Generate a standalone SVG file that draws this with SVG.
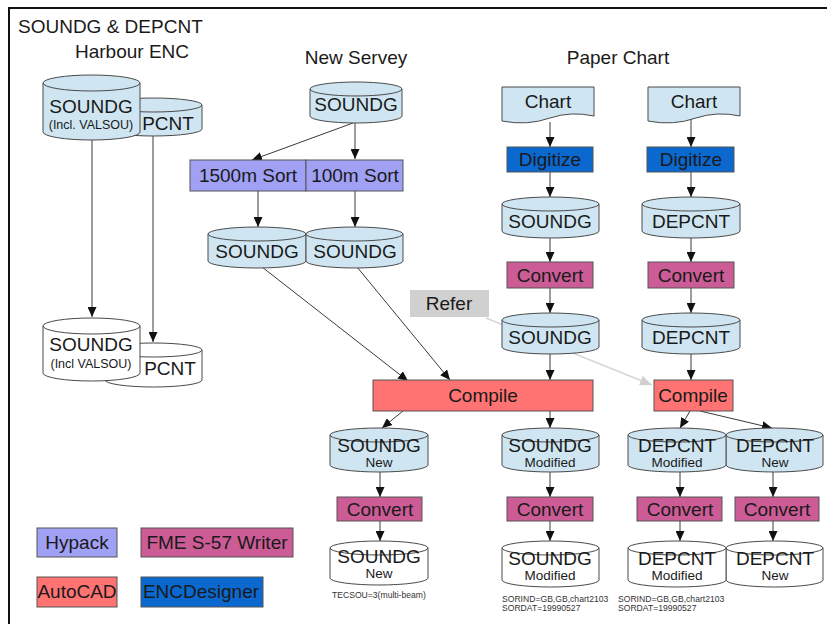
<svg xmlns="http://www.w3.org/2000/svg" width="827" height="624" viewBox="0 0 827 624">
<style>
text{font-family:"Liberation Sans",Arial,sans-serif;fill:#1a1a1a;text-anchor:middle}
.t17{font-size:19px}
.t16{font-size:19px}
.t12{font-size:13.5px}
.t11{font-size:12.5px}
.cap{font-size:8.6px;text-anchor:start;fill:#333}
.cb{fill:#cfe6f2;stroke:#4a4a4a;stroke-width:1}
.cw{fill:#ffffff;stroke:#4a4a4a;stroke-width:1}
.rim{fill:none;stroke:#4a4a4a;stroke-width:1}
.hyp{fill:#a0a0f5;stroke:#555;stroke-width:1}
.fme{fill:#cc5c96;stroke:#555;stroke-width:1}
.acad{fill:#ff7373;stroke:#555;stroke-width:1}
.enc{fill:#0a68cf;stroke:#555;stroke-width:1}
.ref{fill:#d0d0d0}
.ln{fill:none;stroke:#3a3a3a;stroke-width:1;marker-end:url(#ah)}
.lg{fill:none;stroke:#d6d6d6;stroke-width:1.5;marker-end:url(#ahg)}
</style>
<defs>
<marker id="ah" markerUnits="userSpaceOnUse" markerWidth="10" markerHeight="9" refX="10" refY="4.5" orient="auto"><path d="M0,0 L10,4.5 L0,9 z" fill="#111"/></marker>
<marker id="ahg" markerUnits="userSpaceOnUse" markerWidth="12" markerHeight="10" refX="12" refY="5" orient="auto"><path d="M0,0 L12,5 L0,10 z" fill="#cfcfcf"/></marker>
</defs>
<rect width="827" height="624" fill="#ffffff"/>
<path d="M9,624 V8 H827" fill="none" stroke="#111" stroke-width="2"/>

<text class="t17" x="18" y="33" style="text-anchor:start">SOUNDG &amp; DEPCNT</text>
<text class="t17" x="132" y="58">Harbour ENC</text>
<text class="t17" x="356" y="64">New Servey</text>
<text class="t17" x="618" y="64">Paper Chart</text>

<g id="connectors">
<path class="ln" d="M92,140 V317"/>
<path class="ln" d="M153,136 V342"/>
<path class="ln" d="M353,123 L252,160"/>
<path class="ln" d="M355,123 V159"/>
<path class="ln" d="M258,191 V227"/>
<path class="ln" d="M355,191 V227"/>
<path class="ln" d="M262,267 L408,381"/>
<path class="ln" d="M357,267 L450,380"/>
<path class="ln" d="M550,122 V147"/>
<path class="ln" d="M550,172 V197"/>
<path class="ln" d="M550,238 V262"/>
<path class="ln" d="M550,288 V313"/>
<path class="ln" d="M550,354 V380"/>
<path class="ln" d="M691,119 V147"/>
<path class="ln" d="M691,172 V197"/>
<path class="ln" d="M691,238 V262"/>
<path class="ln" d="M691,288 V313"/>
<path class="ln" d="M691,354 V380"/>
<path class="lg" d="M486,318 L652,385"/>
<path class="ln" d="M403,411 L382,428"/>
<path class="ln" d="M550,411 V428"/>
<path class="ln" d="M690,411 L680,428"/>
<path class="ln" d="M700,411 L772,428"/>
<path class="ln" d="M380,472 V497"/>
<path class="ln" d="M380,521 V541"/>
<path class="ln" d="M550,472 V497"/>
<path class="ln" d="M550,521 V541"/>
<path class="ln" d="M680,472 V497"/>
<path class="ln" d="M680,521 V541"/>
<path class="ln" d="M773,472 V497"/>
<path class="ln" d="M773,521 V541"/>
</g>

<g id="harbour-pcnt">
<path class="cb" d="M105,105 A48.5,7 0 0 1 202,105 V129 A48.5,7 0 0 1 105,129 Z"/>
<path class="rim" d="M105,105 A48.5,7 0 0 0 202,105"/>
<text class="t17" x="168" y="130">PCNT</text>
</g>
<g id="harbour-soundg">
<path class="cb" d="M43,83 A48.5,8 0 0 1 140,83 V132 A48.5,8 0 0 1 43,132 Z"/>
<path class="rim" d="M43,83 A48.5,8 0 0 0 140,83"/>
<text class="t17" x="91" y="113">SOUNDG</text>
<text class="t11" x="91" y="129">(Incl. VALSOU)</text>
</g>
<g id="harbour-pcnt-out">
<path class="cw" d="M105,350 A48.5,7 0 0 1 202,350 V380 A48.5,7 0 0 1 105,380 Z"/>
<path class="rim" d="M105,350 A48.5,7 0 0 0 202,350"/>
<text class="t17" x="170" y="375">PCNT</text>
</g>
<g id="harbour-soundg-out">
<path class="cw" d="M43,326 A48.5,8 0 0 1 140,326 V373 A48.5,8 0 0 1 43,373 Z"/>
<path class="rim" d="M43,326 A48.5,8 0 0 0 140,326"/>
<text class="t17" x="91" y="351">SOUNDG</text>
<text class="t11" x="91" y="368">(Incl VALSOU)</text>
</g>

<g id="ns-soundg">
<path class="cb" d="M310,89 A46,7 0 0 1 402,89 V116 A46,7 0 0 1 310,116 Z"/>
<path class="rim" d="M310,89 A46,7 0 0 0 402,89"/>
<text class="t17" x="356" y="111">SOUNDG</text>
</g>
<g id="sort1500">
<rect class="hyp" x="190" y="160" width="116" height="31"/>
<text class="t16" x="248" y="182">1500m Sort</text>
</g>
<g id="sort100">
<rect class="hyp" x="306" y="160" width="97" height="31"/>
<text class="t16" x="355" y="182">100m Sort</text>
</g>
<g id="ns-soundg-l">
<path class="cb" d="M208,234 A49,7 0 0 1 306,234 V261 A49,7 0 0 1 208,261 Z"/>
<path class="rim" d="M208,234 A49,7 0 0 0 306,234"/>
<text class="t17" x="257" y="258">SOUNDG</text>
</g>
<g id="ns-soundg-r">
<path class="cb" d="M306,234 A48.5,7 0 0 1 403,234 V261 A48.5,7 0 0 1 306,261 Z"/>
<path class="rim" d="M306,234 A48.5,7 0 0 0 403,234"/>
<text class="t17" x="355" y="258">SOUNDG</text>
</g>

<g id="chart-l">
<path class="cb" d="M502,87 H594 V116 Q571,111 550,118 Q527,126 502,121 Z"/>
<text class="t17" x="548" y="108">Chart</text>
</g>
<g id="chart-r">
<path class="cb" d="M648,87 H740 V116 Q717,111 696,118 Q673,126 648,121 Z"/>
<text class="t17" x="694" y="108">Chart</text>
</g>
<g id="digitize-l">
<rect class="enc" x="507" y="147" width="86" height="25"/>
<text class="t16" x="550" y="166">Digitize</text>
</g>
<g id="digitize-r">
<rect class="enc" x="647" y="147" width="87" height="25"/>
<text class="t16" x="691" y="166">Digitize</text>
</g>
<g id="pc-soundg1">
<path class="cb" d="M502,204 A48.5,7 0 0 1 599,204 V231 A48.5,7 0 0 1 502,231 Z"/>
<path class="rim" d="M502,204 A48.5,7 0 0 0 599,204"/>
<text class="t17" x="550" y="228">SOUNDG</text>
</g>
<g id="pc-depcnt1">
<path class="cb" d="M642,204 A49,7 0 0 1 740,204 V231 A49,7 0 0 1 642,231 Z"/>
<path class="rim" d="M642,204 A49,7 0 0 0 740,204"/>
<text class="t17" x="691" y="228">DEPCNT</text>
</g>
<g id="convert-l">
<rect class="fme" x="507" y="262" width="86" height="26"/>
<text class="t17" x="550" y="282">Convert</text>
</g>
<g id="convert-r">
<rect class="fme" x="648" y="262" width="86" height="26"/>
<text class="t17" x="691" y="282">Convert</text>
</g>
<g id="pc-soundg2">
<path class="cb" d="M502,320 A48.5,7 0 0 1 599,320 V347 A48.5,7 0 0 1 502,347 Z"/>
<path class="rim" d="M502,320 A48.5,7 0 0 0 599,320"/>
<text class="t17" x="550" y="344">SOUNDG</text>
</g>
<g id="pc-depcnt2">
<path class="cb" d="M642,320 A49,7 0 0 1 740,320 V347 A49,7 0 0 1 642,347 Z"/>
<path class="rim" d="M642,320 A49,7 0 0 0 740,320"/>
<text class="t17" x="691" y="344">DEPCNT</text>
</g>
<g id="refer">
<rect class="ref" x="410" y="290" width="79" height="27"/>
<text class="t17" x="449" y="310">Refer</text>
</g>
<g id="compile-main">
<rect class="acad" x="373" y="380" width="220" height="31"/>
<text class="t17" x="483" y="402">Compile</text>
</g>
<g id="compile-r">
<rect class="acad" x="654" y="380" width="79" height="31"/>
<text class="t17" x="693" y="402">Compile</text>
</g>

<g id="soundg-new">
<path class="cb" d="M330,435 A49,7 0 0 1 428,435 V465 A49,7 0 0 1 330,465 Z"/>
<path class="rim" d="M330,435 A49,7 0 0 0 428,435"/>
<text class="t16" x="379" y="452">SOUNDG</text>
<text class="t12" x="379" y="467">New</text>
</g>
<g id="soundg-mod">
<path class="cb" d="M502,435 A48.5,7 0 0 1 599,435 V465 A48.5,7 0 0 1 502,465 Z"/>
<path class="rim" d="M502,435 A48.5,7 0 0 0 599,435"/>
<text class="t16" x="550" y="452">SOUNDG</text>
<text class="t12" x="550" y="467">Modified</text>
</g>
<g id="depcnt-new">
<path class="cb" d="M726,435 A48.5,7 0 0 1 823,435 V465 A48.5,7 0 0 1 726,465 Z"/>
<path class="rim" d="M726,435 A48.5,7 0 0 0 823,435"/>
<text class="t16" x="775" y="452">DEPCNT</text>
<text class="t12" x="775" y="467">New</text>
</g>
<g id="depcnt-mod">
<path class="cb" d="M628,435 A49,7 0 0 1 726,435 V465 A49,7 0 0 1 628,465 Z"/>
<path class="rim" d="M628,435 A49,7 0 0 0 726,435"/>
<text class="t16" x="677" y="452">DEPCNT</text>
<text class="t12" x="677" y="467">Modified</text>
</g>

<g id="convert-1">
<rect class="fme" x="337" y="497" width="85" height="24"/>
<text class="t17" x="380" y="516">Convert</text>
</g>
<g id="convert-2">
<rect class="fme" x="507" y="497" width="86" height="24"/>
<text class="t17" x="550" y="516">Convert</text>
</g>
<g id="convert-3">
<rect class="fme" x="637" y="497" width="85" height="24"/>
<text class="t17" x="680" y="516">Convert</text>
</g>
<g id="convert-4">
<rect class="fme" x="735" y="497" width="84" height="24"/>
<text class="t17" x="777" y="516">Convert</text>
</g>

<g id="soundg-new-out">
<path class="cw" d="M330,548 A49,7 0 0 1 428,548 V578 A49,7 0 0 1 330,578 Z"/>
<path class="rim" d="M330,548 A49,7 0 0 0 428,548"/>
<text class="t16" x="379" y="563">SOUNDG</text>
<text class="t12" x="379" y="578">New</text>
<text class="cap" x="332" y="598">TECSOU=3(multi-beam)</text>
</g>
<g id="soundg-mod-out">
<path class="cw" d="M502,548 A48.5,7 0 0 1 599,548 V580 A48.5,7 0 0 1 502,580 Z"/>
<path class="rim" d="M502,548 A48.5,7 0 0 0 599,548"/>
<text class="t16" x="550" y="565">SOUNDG</text>
<text class="t12" x="550" y="580">Modified</text>
<text class="cap" x="502" y="602">SORIND=GB,GB,chart2103</text>
<text class="cap" x="502" y="611">SORDAT=19990527</text>
</g>
<g id="depcnt-new-out">
<path class="cw" d="M726,548 A48.5,7 0 0 1 823,548 V580 A48.5,7 0 0 1 726,580 Z"/>
<path class="rim" d="M726,548 A48.5,7 0 0 0 823,548"/>
<text class="t16" x="775" y="565">DEPCNT</text>
<text class="t12" x="775" y="580">New</text>
</g>
<g id="depcnt-mod-out">
<path class="cw" d="M628,548 A49,7 0 0 1 726,548 V580 A49,7 0 0 1 628,580 Z"/>
<path class="rim" d="M628,548 A49,7 0 0 0 726,548"/>
<text class="t16" x="677" y="565">DEPCNT</text>
<text class="t12" x="677" y="580">Modified</text>
<text class="cap" x="618" y="602">SORIND=GB,GB,chart2103</text>
<text class="cap" x="618" y="611">SORDAT=19990527</text>
</g>

<g id="legend-hypack">
<rect class="hyp" x="37" y="528" width="80" height="29"/>
<text class="t17" x="77" y="549">Hypack</text>
</g>
<g id="legend-fme">
<rect class="fme" x="141" y="528" width="152" height="29"/>
<text class="t17" x="217" y="549">FME S-57 Writer</text>
</g>
<g id="legend-autocad">
<rect class="acad" x="37" y="577" width="80" height="30"/>
<text class="t17" x="77" y="598">AutoCAD</text>
</g>
<g id="legend-enc">
<rect class="enc" x="141" y="577" width="122" height="30"/>
<text class="t17" x="201" y="598">ENCDesigner</text>
</g>
</svg>
